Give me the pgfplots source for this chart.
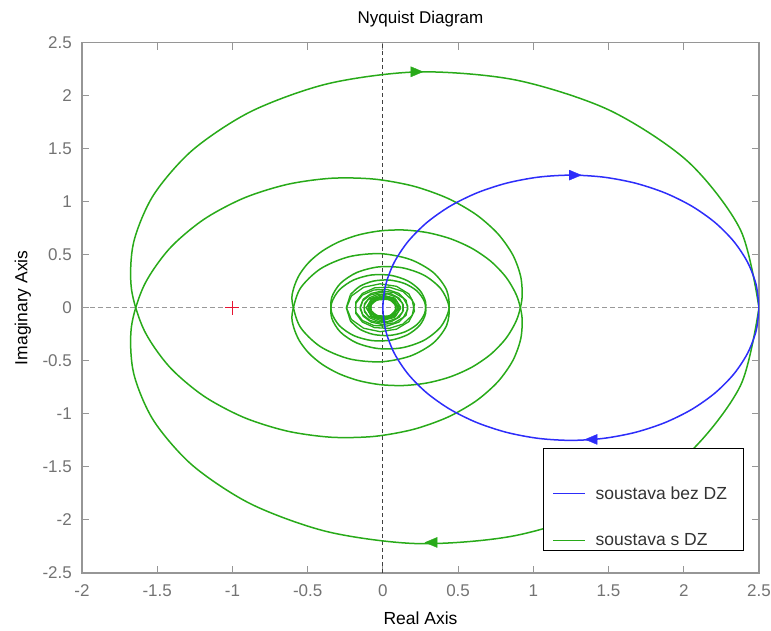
\documentclass[border=0pt]{standalone}
\usepackage{pgfplots}
\pgfplotsset{compat=1.18}
\usepackage{pgfplotstable}
\usepackage{fontspec}
\setmainfont{Liberation Sans}
\definecolor{mblue}{RGB}{45,45,250}
\definecolor{mgreen}{RGB}{40,170,25}
\definecolor{mred}{RGB}{230,20,50}
\definecolor{axgray}{RGB}{150,150,150}
\definecolor{tickgray}{RGB}{115,115,115}

% positive-frequency branch, omega = 0 ... 10 (yn = mirrored branch)
\pgfplotstableread{
x y yn
2.5 0 0
2.3768 -0.7343 0.7343
2.0269 -1.3789 1.3789
1.5045 -1.8629 1.8629
0.8831 -2.1466 2.1466
0.2391 -2.2232 2.2232
-0.3619 -2.1130 2.1130
-0.8722 -1.8531 1.8531
-1.2635 -1.4881 1.4881
-1.5244 -1.0627 1.0627
-1.6568 -0.6164 0.6164
-1.6718 -0.1823 0.1823
-1.5860 0.2146 -0.2146
-1.4192 0.5562 -0.5562
-1.1919 0.8312 -0.8312
-0.9244 1.0337 -1.0337
-0.6355 1.1627 -1.1627
-0.3421 1.2205 -1.2205
-0.0591 1.2127 -1.2127
0.2015 1.1468 -1.1468
0.4300 1.0320 -1.0320
0.6193 0.8785 -0.8785
0.7646 0.6968 -0.6968
0.8638 0.4975 -0.4975
0.9165 0.2907 -0.2907
0.9245 0.0861 -0.0861
0.8910 -0.1078 0.1078
0.8206 -0.2837 0.2837
0.7192 -0.4356 0.4356
0.5932 -0.5588 0.5588
0.4496 -0.6503 0.6503
0.2955 -0.7083 0.7083
0.1380 -0.7328 0.7328
-0.0164 -0.7248 0.7248
-0.1613 -0.6867 0.6867
-0.2916 -0.6218 0.6218
-0.4027 -0.5343 0.5343
-0.4913 -0.4291 0.4291
-0.5549 -0.3113 0.3113
-0.5923 -0.1865 0.1865
-0.6034 -0.0599 0.0599
-0.5510 0.1779 -0.1779
-0.4156 0.3664 -0.3664
-0.2256 0.4808 -0.4808
-0.0154 0.5097 -0.5097
0.1809 0.4557 -0.4557
0.3338 0.3339 -0.3339
0.4230 0.1683 -0.1683
0.4393 -0.0122 0.0122
0.3854 -0.1785 0.1785
0.2745 -0.3058 0.3058
0.1276 -0.3771 0.3771
-0.0303 -0.3847 0.3847
-0.1740 -0.3316 0.3316
-0.2821 -0.2296 0.2296
-0.3399 -0.0974 0.0974
-0.3412 0.0428 -0.0428
-0.2891 0.1688 -0.1688
-0.1945 0.2618 -0.2618
-0.0742 0.3091 -0.3091
0.0518 0.3057 -0.3057
0.1635 0.2547 -0.2547
0.2444 0.1662 -0.1662
0.2833 0.0558 -0.0558
0.2762 -0.0583 0.0583
0.2262 -0.1583 0.1583
0.1430 -0.2292 0.2292
0.0410 -0.2613 0.2613
-0.0632 -0.2512 0.2512
-0.1533 -0.2022 0.2022
-0.2159 -0.1236 0.1236
}\greenA

% omega = 10 ... 30
\pgfplotstableread{
x y yn
-0.2159 -0.1236 0.1236
-0.2427 -0.0043 0.0043
-0.2097 0.1104 -0.1104
-0.1277 0.1932 -0.1932
-0.0185 0.2256 -0.2256
0.0903 0.2021 -0.2021
0.1726 0.1308 -0.1308
0.2097 0.0310 -0.0310
0.1947 -0.0721 0.0721
0.1332 -0.1537 0.1537
0.0420 -0.1947 0.1947
-0.0557 -0.1874 0.1874
-0.1363 -0.1349 0.1349
-0.1809 -0.0518 0.0518
-0.1801 0.0408 -0.0408
-0.1359 0.1201 -0.1201
-0.0603 0.1676 -0.1676
0.0271 0.1729 -0.1729
0.1050 0.1362 -0.1362
0.1549 0.0678 -0.0678
0.1656 -0.0147 0.0147
0.1360 -0.0909 0.0909
0.0744 -0.1427 0.1427
-0.0033 -0.1584 0.1584
-0.0777 -0.1352 0.1352
-0.1311 -0.0800 0.0800
-0.1511 -0.0071 0.0071
-0.1339 0.0653 -0.0653
-0.0849 0.1198 -0.1198
-0.0167 0.1437 -0.1437
0.0536 0.1322 -0.1322
0.1089 0.0889 -0.0889
0.1363 0.0253 -0.0253
0.1300 -0.0426 0.0426
0.0923 -0.0984 0.0984
0.0332 -0.1289 0.1289
-0.0323 -0.1274 0.1274
-0.0883 -0.0950 0.0950
-0.1215 -0.0404 0.0404
-0.1244 0.0226 -0.0226
-0.0971 0.0785 -0.0785
-0.0110 0.1219 -0.1219
0.0784 0.0909 -0.0909
0.1176 0.0069 -0.0069
0.0852 -0.0781 0.0781
0.0031 -0.1135 0.1135
-0.0779 -0.0798 0.0798
-0.1095 0.0003 -0.0003
-0.0747 0.0775 -0.0775
0.0036 0.1058 -0.1058
0.0771 0.0699 -0.0699
0.1022 -0.0066 0.0066
0.0653 -0.0767 0.0767
-0.0094 -0.0987 0.0987
-0.0762 -0.0610 0.0610
-0.0953 0.0120 -0.0120
-0.0569 0.0756 -0.0756
0.0144 0.0921 -0.0921
0.0750 0.0530 -0.0530
0.0890 -0.0167 0.0167
0.0492 -0.0744 0.0744
-0.0189 -0.0859 0.0859
-0.0738 -0.0457 0.0457
-0.0830 0.0209 -0.0209
-0.0422 0.0731 -0.0731
0.0227 0.0801 -0.0801
}\greenB

\pgfplotstableread{
x y
2.5 0
2.48101 -0.21706
2.42462 -0.42753
2.33253 -0.625
2.20755 -0.80349
2.05349 -0.95755
1.875 -1.08253
1.67753 -1.17462
1.46706 -1.23101
1.25 -1.25
1.03294 -1.23101
0.82247 -1.17462
0.625 -1.08253
0.44651 -0.95755
0.29245 -0.80349
0.16747 -0.625
0.07538 -0.42753
0.01899 -0.21706
0 0
0.01899 0.21706
0.07538 0.42753
0.16747 0.625
0.29245 0.80349
0.44651 0.95755
0.625 1.08253
0.82247 1.17462
1.03294 1.23101
1.25 1.25
1.46706 1.23101
1.67753 1.17462
1.875 1.08253
2.05349 0.95755
2.20755 0.80349
2.33253 0.625
2.42462 0.42753
2.48101 0.21706
2.5 0
}\blueC

\begin{document}
\begin{tikzpicture}
\path[use as bounding box] (-82pt,-57pt) rectangle (689pt,573pt);
\begin{axis}[
  scale only axis, width=677pt, height=530.5pt,
  xmin=-2, xmax=2.5, ymin=-2.5, ymax=2.5,
  xtick={-2,-1.5,-1,-0.5,0,0.5,1,1.5,2,2.5},
  xticklabels={-2,-1.5,-1,-0.5,0,0.5,1,1.5,2,2.5},
  ytick={-2.5,-2,-1.5,-1,-0.5,0,0.5,1,1.5,2,2.5},
  yticklabels={-2.5,-2,-1.5,-1,-0.5,0,0.5,1,1.5,2,2.5},
  tick align=inside,
  major tick length=7pt,
  tick style={axgray, line width=1pt},
  axis line style={axgray, line width=1.1pt},
  ticklabel style={font=\fontsize{17}{20}\selectfont, text=tickgray},
  xticklabel style={anchor=base, inner sep=0pt, yshift=-23.7pt},
  yticklabel style={anchor=east, inner sep=0pt, xshift=-10pt},
  title={Nyquist Diagram},
  title style={at={(axis description cs:0.5,1.0254)}, anchor=base, inner sep=0pt, font=\fontsize{17}{20}\selectfont},
  xlabel={Real Axis},
  xlabel style={at={(axis description cs:0.5,-0.098)}, anchor=base, inner sep=0pt, font=\fontsize{17.5}{20}\selectfont},
  ylabel={Imaginary Axis},
  ylabel style={at={(axis description cs:-0.0805,0.5)}, anchor=base, inner sep=0pt, font=\fontsize{17.5}{20}\selectfont},
  legend style={at={(0.681,0.0415)}, anchor=south west, draw=black, line width=1.2pt, fill=white,
    inner xsep=9pt, inner ysep=3pt, row sep=33.2pt, column sep=10pt,
    font=\fontsize{17.5}{20}\selectfont, text=black!80, nodes={inner sep=0pt}, cells={anchor=west}},
  legend image code/.code={\draw[#1, line width=1.5pt] (0pt,0pt) -- (31.6pt,0pt);},
]
% zero lines
\addplot[black!75, dash pattern=on 4pt off 3pt, line width=1pt, forget plot] coordinates {(0,-2.5) (0,2.5)};
\addplot[black!40, dash pattern=on 5pt off 3pt, line width=1pt, forget plot] coordinates {(-2,0) (2.5,0)};
% system with dead time
\addplot[mgreen, line width=1.5pt, smooth, forget plot] table[x=x,y=y] {\greenA};
\addplot[mgreen, line width=1.5pt, smooth, forget plot] table[x=x,y=yn] {\greenA};
\addplot[mgreen, line width=1.3pt, forget plot] table[x=x,y=y] {\greenB};
\addplot[mgreen, line width=1.3pt, forget plot] table[x=x,y=yn] {\greenB};
% system without dead time
\addplot[mblue, line width=1.5pt, smooth, forget plot] table[x=x,y=y] {\blueC};
% direction arrows
\addplot[mgreen, only marks, mark=triangle*, mark size=5.8pt, mark options={rotate=-90, yscale=1.38}, forget plot] coordinates {(0.213,2.224)};
\addplot[mgreen, only marks, mark=triangle*, mark size=5.8pt, mark options={rotate=90, yscale=1.38}, forget plot] coordinates {(0.334,-2.212)};
\addplot[mblue, only marks, mark=triangle*, mark size=5.8pt, mark options={rotate=-90, yscale=1.38}, forget plot] coordinates {(1.265,1.25)};
\addplot[mblue, only marks, mark=triangle*, mark size=5.8pt, mark options={rotate=90, yscale=1.38}, forget plot] coordinates {(1.398,-1.241)};
% critical point
\addplot[mred, only marks, mark=+, mark size=7pt, line width=1.2pt, forget plot] coordinates {(-1,0)};
% legend
\addlegendimage{empty legend}\addlegendentry{\mbox{}}
\addlegendimage{mblue}\addlegendentry{\makebox[139pt][l]{soustava bez DZ}}
\addlegendimage{mgreen}\addlegendentry{\makebox[139pt][l]{soustava s DZ}}
\end{axis}
\end{tikzpicture}
\end{document}
